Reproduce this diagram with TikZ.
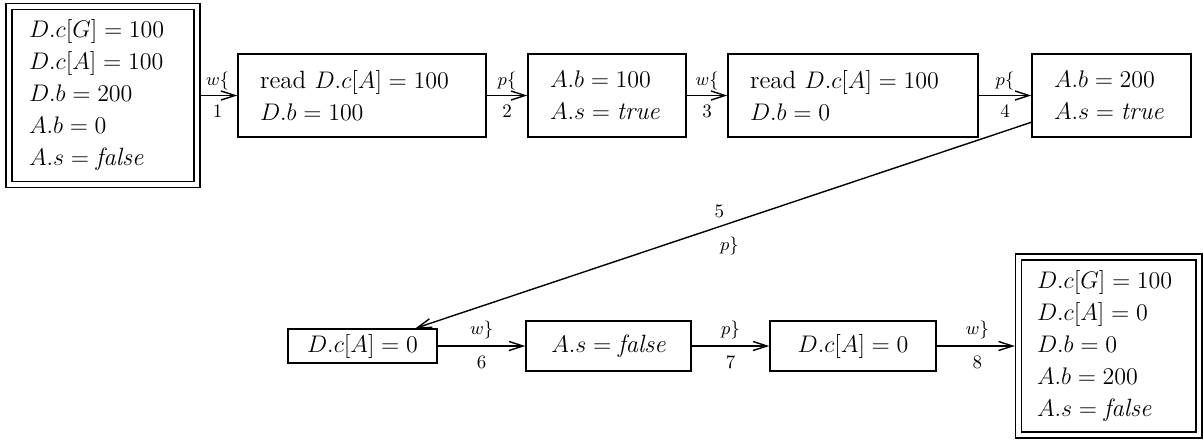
\documentclass[tikz,border=0pt]{standalone}
\usetikzlibrary{arrows.meta}
\begin{document}
\begin{tikzpicture}[x=0.5pt,y=-0.5pt, line width=0.7pt,
  every node/.style={font=\fontsize{12.5}{16}\selectfont},
  mbox/.style={draw, align=left, inner xsep=11pt, inner ysep=0pt, minimum height=41.5pt, text width=#1},
  sbox/.style={draw, double, double distance=2.3pt, align=left, inner xsep=10pt, inner ysep=0pt, minimum height=89pt, text width=#1},
  cbox/.style={draw, align=center, inner sep=0pt, minimum width=#1, minimum height=25pt},
  arr/.style={-{Straight Barb[length=7pt,width=4.5pt]}},
  lab/.style={font=\fontsize{9.5}{11}\selectfont, inner sep=0pt}]
\useasboundingbox (0,0) rectangle (1203,439);

\node[sbox=74pt] (s0) at (103,95.5) {$D.c[G] = 100$\\ $D.c[A] = 100$\\ $D.b = 200$\\ $A.b = 0$\\ $A.s = \textit{false}$};
\node[mbox=102pt] (b1) at (362,95.5) {read $D.c[A] = 100$\\ $D.b = 100$};
\node[mbox=57pt] (b2) at (607,95.5) {$A.b = 100$\\ $A.s = \textit{true}$};
\node[mbox=103pt] (b3) at (853,95.5) {read $D.c[A] = 100$\\ $D.b = 0$};
\node[mbox=57.5pt] (b4) at (1111.5,95.5) {$A.b = 200$\\ $A.s = \textit{true}$};

\node[cbox=74.5pt, minimum height=17pt] (b5) at (362.5,346) {$D.c[A] = 0$};
\node[cbox=82.5pt] (b6) at (608.5,346) {$A.s = \textit{false}$};
\node[cbox=83pt] (b7) at (853,346) {$D.c[A] = 0$};
\node[sbox=71.75pt, inner xsep=9.25pt] (s8) at (1108.75,346) {$D.c[G] = 100$\\ $D.c[A] = 0$\\ $D.b = 0$\\ $A.b = 200$\\ $A.s = \textit{false}$};

\draw[arr, shorten <=1.5pt] (s0) -- (b1) node[lab, midway, yshift=7.5pt]{$w\{$} node[lab, midway, yshift=-8pt]{1};
\draw[arr] (b1) -- (b2) node[lab, midway, yshift=7.5pt]{$p\{$} node[lab, midway, yshift=-8pt]{2};
\draw[arr] (b2) -- (b3) node[lab, midway, yshift=7.5pt]{$w\{$} node[lab, midway, yshift=-8pt]{3};
\draw[arr] (b3) -- (b4) node[lab, midway, yshift=7.5pt]{$p\{$} node[lab, midway, yshift=-8pt]{4};
\draw[arr] (b4) -- (b5) node[lab, midway, yshift=7pt, xshift=-2pt]{5} node[lab, midway, yshift=-10.5pt, xshift=3pt]{$p\}$};
\draw[arr] (b5) -- (b6) node[lab, midway, yshift=8pt]{$w\}$} node[lab, midway, yshift=-8pt]{6};
\draw[arr] (b6) -- (b7) node[lab, midway, yshift=8pt]{$p\}$} node[lab, midway, yshift=-8pt]{7};
\draw[arr, shorten >=1.5pt] (b7) -- (s8) node[lab, midway, yshift=8pt]{$w\}$} node[lab, midway, yshift=-8pt]{8};
\end{tikzpicture}
\end{document}
